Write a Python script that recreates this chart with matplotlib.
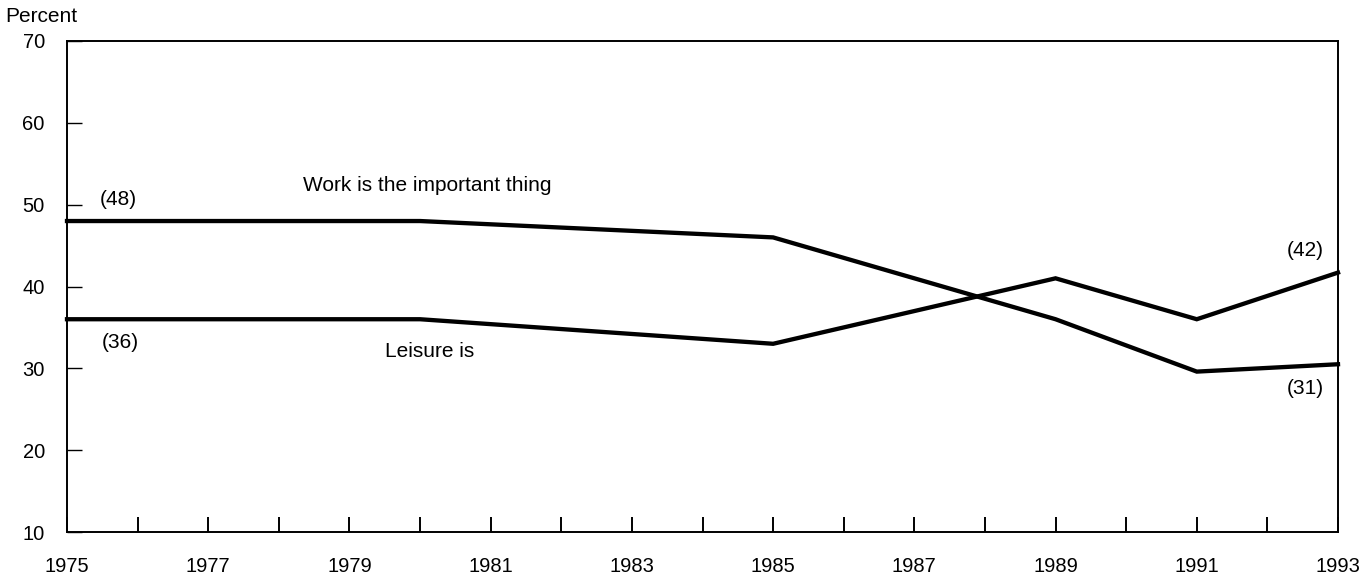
import matplotlib
matplotlib.use("Agg")
import matplotlib.pyplot as plt

years = [1975, 1980, 1985, 1989, 1991, 1993]
work = [48, 48, 46, 36, 29.6, 30.5]
leisure = [36, 36, 33, 41, 36, 41.7]

xtick_years = list(range(1975, 1994))
xtick_labels = [str(y) if (y - 1975) % 2 == 0 else "" for y in xtick_years]
ytick_vals = [10, 20, 30, 40, 50, 60, 70]

plt.rcParams['font.family'] = ['Liberation Sans', 'DejaVu Sans']

fig = plt.figure(figsize=(13.71, 5.79), dpi=100)
ax = fig.add_axes([67/1371, 1 - 532/579, (1338-67)/1371, (532-41)/579])

ax.plot(years, work, color='black', lw=3.1, solid_joinstyle='miter', clip_on=False)
ax.plot(years, leisure, color='black', lw=3.1, solid_joinstyle='miter', clip_on=False)

ax.set_xlim(1975, 1993)
ax.set_ylim(10, 70)
ax.set_xticks(xtick_years)
ax.set_xticklabels(xtick_labels)
ax.set_yticks(ytick_vals)
ax.set_yticklabels([str(v) for v in ytick_vals])

ax.tick_params(axis='x', direction='in', length=11, width=1.4, pad=18, labelsize=14.5)
ax.tick_params(axis='y', direction='in', length=11, width=1.0, pad=16, labelsize=14.5)
for s in ax.spines.values():
    s.set_linewidth(1.4)
    s.set_color('black')

fs = 15
ax.text(1975.73, 50.6, "(48)", fontsize=fs, ha='center', va='center')
ax.text(1975.75, 33.1, "(36)", fontsize=fs, ha='center', va='center')
ax.text(1978.34, 52.4, "Work is the important thing", fontsize=fs, ha='left', va='center')
ax.text(1979.5, 32.1, "Leisure is", fontsize=fs, ha='left', va='center')
ax.text(1992.54, 44.4, "(42)", fontsize=fs, ha='center', va='center')
ax.text(1992.54, 27.5, "(31)", fontsize=fs, ha='center', va='center')
fig.text(5/1371, 1 - 17/579, "Percent", fontsize=fs, ha='left', va='center')

fig.savefig("out.png", dpi=100)
